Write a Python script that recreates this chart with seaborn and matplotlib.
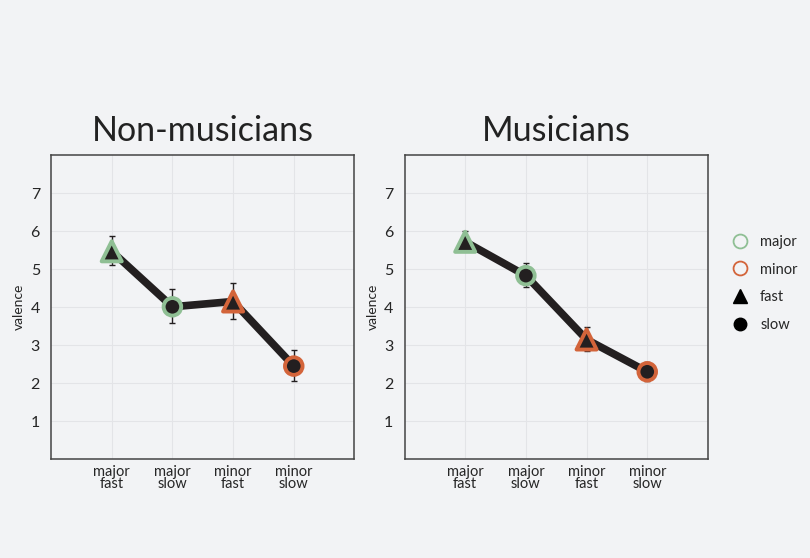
import numpy as np
import pandas as pd
import matplotlib.pyplot as plt
from matplotlib.lines import Line2D
import seaborn as sns

conditions = ["major\nfast", "major\nslow", "minor\nfast", "minor\nslow"]
mode = ["major", "major", "minor", "minor"]
tempo = ["fast", "slow", "fast", "slow"]

nonmus_mean = [5.47, 4.01, 4.15, 2.45]
nonmus_low = [5.11, 3.59, 3.70, 2.07]
nonmus_high = [5.88, 4.47, 4.64, 2.88]

mus_mean = [5.72, 4.83, 3.15, 2.30]
mus_low = [5.50, 4.54, 2.84, 2.05]
mus_high = [6.01, 5.15, 3.48, 2.56]

groups = ["Non-musicians", "Musicians"]

bg = "#f2f3f5"
dark = "#231f20"
mode_colors = {"major": "#8fbf94", "minor": "#d3643a"}
tempo_markers = {"fast": "^", "slow": "o"}

sns.set_style("white")
plt.rcParams["font.family"] = ["Lato", "DejaVu Sans"]

fig, axes = plt.subplots(1, 2, figsize=(8.1, 5.58), dpi=100)
fig.patch.set_facecolor(bg)
fig.subplots_adjust(left=0.063, right=0.874, top=0.722, bottom=0.177, wspace=0.165)

all_means = [nonmus_mean, mus_mean]
all_low = [nonmus_low, mus_low]
all_high = [nonmus_high, mus_high]

for ax, title, means, lows, highs in zip(axes, groups, all_means, all_low, all_high):
    df = pd.DataFrame({"x": np.arange(len(conditions)), "valence": means,
                       "mode": mode, "tempo": tempo})
    ax.set_facecolor(bg)
    ax.grid(True, color="#e3e4e7", linewidth=0.8)
    ax.set_axisbelow(True)

    sns.lineplot(data=df, x="x", y="valence", color=dark, linewidth=5.5,
                 ax=ax, zorder=2, sort=False)
    err = [np.array(means) - np.array(lows), np.array(highs) - np.array(means)]
    ax.errorbar(df["x"], means, yerr=err, fmt="none", ecolor=dark,
                elinewidth=1, capsize=2.5, capthick=1, zorder=3)
    for t in ["fast", "slow"]:
        sub = df[df["tempo"] == t]
        sns.scatterplot(data=sub, x="x", y="valence", hue="mode",
                        palette=mode_colors, marker=tempo_markers[t],
                        s=210 if t == "fast" else 160, color=dark,
                        ax=ax, legend=False, zorder=4, linewidth=0)
        # dark fill with a ring in the mode colour
        ax.collections[-1].set_facecolor(dark)
        ax.collections[-1].set_edgecolor([mode_colors[m] for m in sub["mode"]])
        ax.collections[-1].set_linewidth(2.8)

    ax.set_xlim(-1, 4)
    ax.set_ylim(0, 8)
    ax.set_yticks(range(1, 8))
    ax.set_xticks(range(len(conditions)))
    ax.set_xticklabels(conditions, fontsize=10.5, linespacing=0.85)
    ax.tick_params(axis="y", labelsize=11.5, length=0, pad=8)
    ax.tick_params(axis="x", length=0, pad=4)
    ax.set_xlabel("")
    ax.set_ylabel("valence", fontsize=10)
    ax.set_title(title, fontsize=24.5, fontweight="normal", color="#222222", pad=10)
    for s in ax.spines.values():
        s.set_color("#444444")
        s.set_linewidth(1.1)

handles = [
    Line2D([], [], marker="o", linestyle="none", markerfacecolor="none",
           markeredgecolor=mode_colors["major"], markersize=10, markeredgewidth=1.3),
    Line2D([], [], marker="o", linestyle="none", markerfacecolor="none",
           markeredgecolor=mode_colors["minor"], markersize=10, markeredgewidth=1.3),
    Line2D([], [], marker="^", linestyle="none", color="black", markersize=10),
    Line2D([], [], marker="o", linestyle="none", color="black", markersize=9),
]
fig.legend(handles, ["major", "minor", "fast", "slow"], loc="center left",
           bbox_to_anchor=(0.879, 0.492), frameon=False, fontsize=10.5,
           handletextpad=0.4, labelspacing=0.95)

fig.savefig("out.png", dpi=100, facecolor=bg)
